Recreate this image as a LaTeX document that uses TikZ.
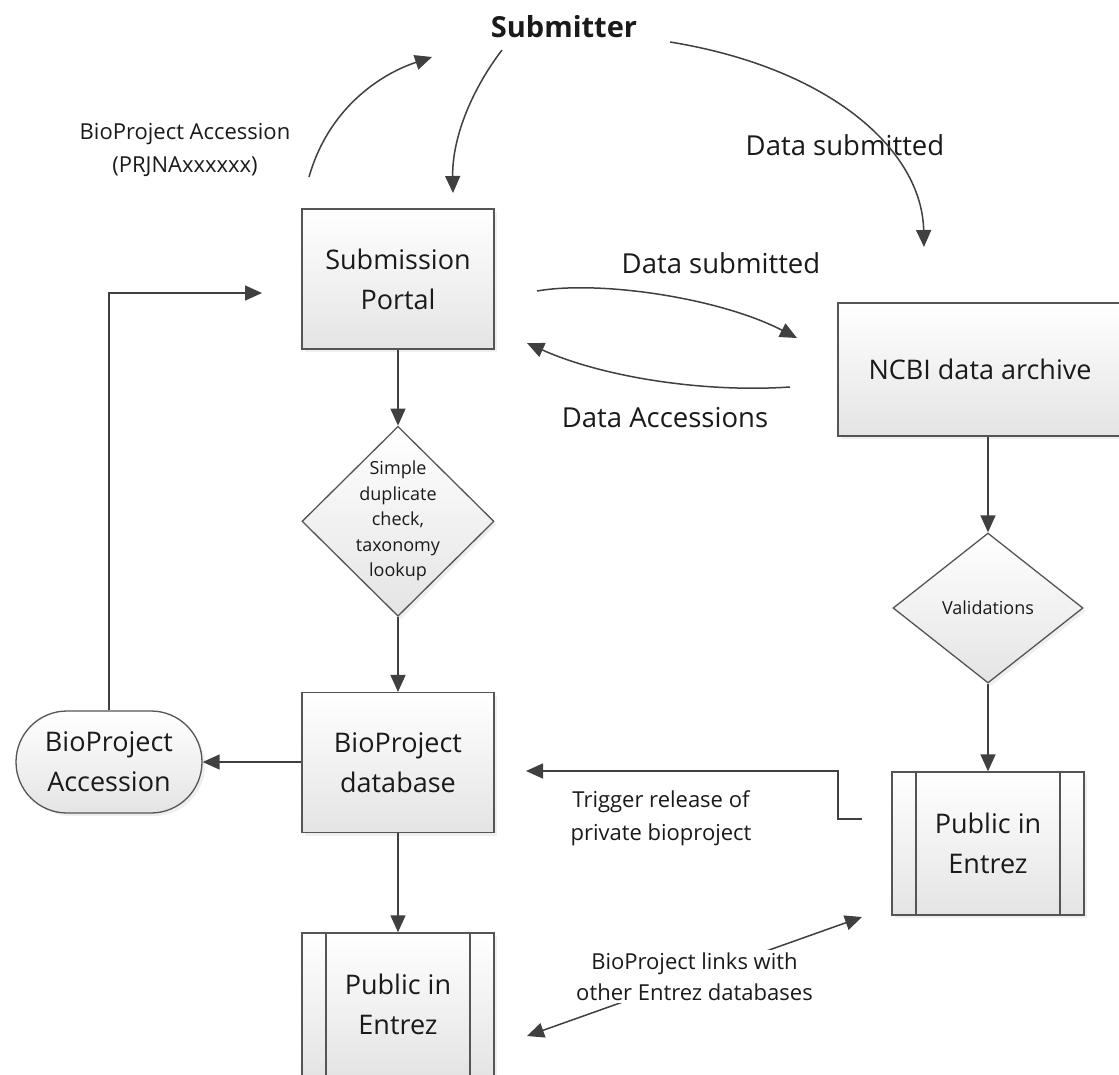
\documentclass[tikz,border=0pt]{standalone}
\usepackage{fontspec}
\setmainfont{Open Sans}
\usetikzlibrary{arrows.meta,positioning,shapes.geometric,shapes.misc,shadows}
\definecolor{Line}{HTML}{404040}
\definecolor{Frame}{HTML}{555555}
\definecolor{Shade}{HTML}{E4E4E4}
\definecolor{Ink}{HTML}{1A1A1A}
\tikzset{box/.style={draw=Frame,line width=1.3pt,top color=white,bottom color=Shade,
    align=center,inner sep=4pt,text=Ink,font=\fontsize{27}{40}\selectfont,
    drop shadow={opacity=0.12,shadow xshift=3pt,shadow yshift=-3pt}},
  procbox/.style={box,minimum width=192pt,minimum height=140pt},
  decision/.style={box,diamond,inner sep=0pt,font=\fontsize{18}{25.5}\selectfont},
  predef/.style={box,minimum width=192pt,minimum height=143pt,
    path picture={\draw[Frame,line width=1.3pt]
      ([xshift=24pt]path picture bounding box.north west) -- ([xshift=24pt]path picture bounding box.south west)
      ([xshift=-24pt]path picture bounding box.north east) -- ([xshift=-24pt]path picture bounding box.south east);}},
  terminal/.style={box,rounded rectangle,minimum width=194pt,minimum height=102pt},
  link/.style={-{Triangle[length=17pt,width=15pt]},line width=1.5pt,draw=Line},
  note/.style={align=center,text=Ink,font=\fontsize{22}{32.5}\selectfont},
  bignote/.style={note,font=\fontsize{27.5}{34}\selectfont}}

\begin{document}
\begin{tikzpicture}[x=1pt,y=-1pt]
  \useasboundingbox[fill=white] (0,0) rectangle (1119,1074);
  % left column
  \node[procbox] (portal) at (398,279) {Submission\\Portal};
  \node[decision,minimum width=192pt,minimum height=190pt,below=76pt of portal,
    label={[note,font=\fontsize{18}{25.5}\selectfont]center:Simple\\duplicate\\check,\\taxonomy\\lookup}] (check) {};
  \node[procbox,below=75pt of check] (bpdb) {BioProject\\database};
  \node[predef,below=99pt of bpdb] (publeft) {Public in\\Entrez};
  \node[terminal] (acc) at (109,762) {BioProject\\Accession};
  % right column
  \node[procbox,minimum width=284pt,minimum height=133pt] (archive) at (980,369.5) {NCBI data archive};
  \node[decision,minimum width=190pt,minimum height=150pt] (valid) at (988,608) {Validations};
  \node[predef] (pubright) at (988,843.5) {Public in\\Entrez};
  % top
  \node[font=\fontsize{29}{34}\selectfont\bfseries,text=Ink] (submitter) at (564,27) {Submitter};
  \node[note] (acclbl) at (185,150) {BioProject Accession\\(PRJNAxxxxxx)};
  \node[bignote] (sublbl) at (845,145) {Data submitted};
  \node[bignote] (datalbl) at (721,263) {Data submitted};
  \node[bignote] (acclbl2) at (665,418) {Data Accessions};
  \node[note] (triglbl) at (661,818) {Trigger release of\\private bioproject};

  \coordinate (a1s) at (309,177); \coordinate (a1e) at (432,57);
  \coordinate (a2s) at (502,50);  \coordinate (a2e) at (453,193);
  \coordinate (a3s) at (670,42);  \coordinate (a3e) at (924,247);
  \coordinate (a4s) at (537,291); \coordinate (a4e) at (797,338);
  \coordinate (a5s) at (790,387); \coordinate (a5e) at (527,343);
  \coordinate (loopend) at (262,293);
  \coordinate (trigstart) at (862,819); \coordinate (trigend) at (526,771);
  \coordinate (lnkA) at (527,1036); \coordinate (lnkB) at (862,917);

  \draw[link] (a1s) .. controls (328,110) and (378,75) .. (a1e);
  \draw[link] (a2s) .. controls (470,92) and (452,140) .. (a2e);
  \draw[link] (a3s) .. controls (830,68) and (922,150) .. (a3e);
  \draw[link] (a4s) .. controls (600,280) and (720,298) .. (a4e);
  \draw[link] (a5s) .. controls (700,393) and (600,376) .. (a5e);

  \draw[link] (portal) -- (check);
  \draw[link] (check) -- (bpdb);
  \draw[link] (bpdb) -- (publeft);
  \draw[link] (bpdb.west |- acc.east) -- (acc.east);
  \draw[link] (acc.north) |- (loopend);
  \draw[link] (valid.north |- archive.south) -- (valid.north);
  \draw[link] (valid) -- (pubright);
  \draw[link] (trigstart) -- ++(-24,0) |- (trigend);
  \draw[link,{Triangle[length=17pt,width=15pt]}-{Triangle[length=17pt,width=15pt]}] (lnkA) --
    node[note,fill=white,inner sep=3pt,font=\fontsize{22}{31}\selectfont] (lnklbl) {BioProject links with\\other Entrez databases} (lnkB);
\end{tikzpicture}
\end{document}
